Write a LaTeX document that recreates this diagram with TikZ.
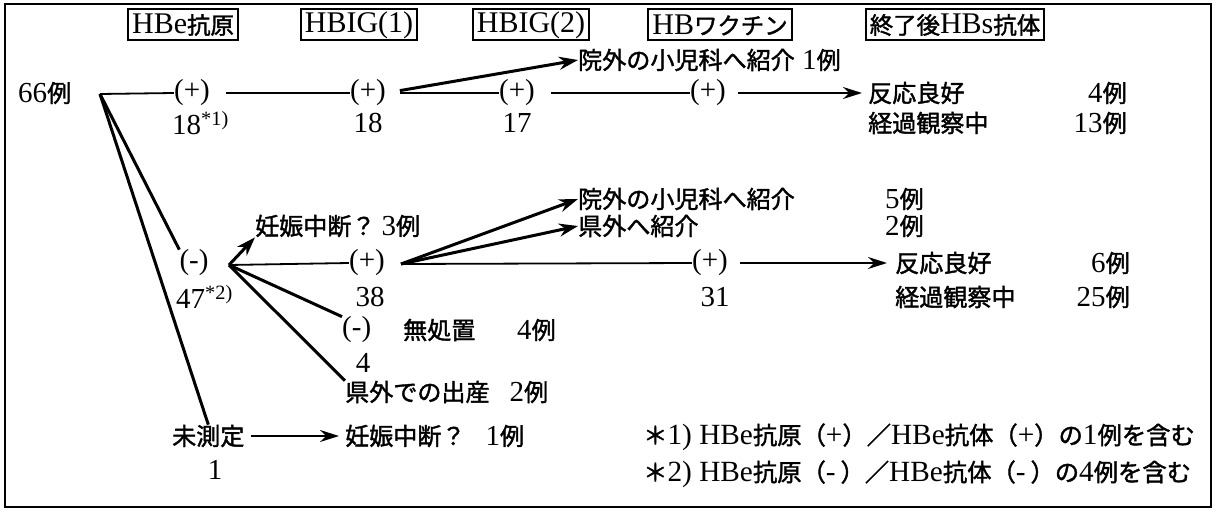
\documentclass[tikz,border=0pt]{standalone}
\usepackage{fontspec}
\setmainfont{Liberation Serif}
\newfontfamily\jpf[Scale=0.83,FakeBold=1.6]{Noto Sans CJK JP}
\newfontfamily\jph[Scale=0.78,FakeBold=1.6]{Noto Sans CJK JP}
\newcommand\J[1]{{\jpf #1}}
\newcommand\JH[1]{{\jph #1}}
\usetikzlibrary{arrows.meta}
\begin{document}
\begin{tikzpicture}[x=1pt,y=-1pt,
  every node/.style={font=\fontsize{29}{31}\selectfont, inner sep=0pt},
  lbl/.style={anchor=west},
  lble/.style={anchor=east},
  hdr/.style={draw, line width=2pt, font=\fontsize{30}{32}\selectfont, inner xsep=4pt, inner ysep=1pt, minimum height=31pt},
  conn/.style={line width=3pt},
  hl/.style={line width=1.8pt},
  arr/.style={line width=3pt, -{Stealth[length=19pt,width=13pt]}},
  harr/.style={line width=2pt, -{Stealth[length=19pt,width=12pt]}},
  note/.style={anchor=west, font=\fontsize{29.3}{31}\selectfont},
]
\useasboundingbox (0,0) rectangle (1217,511);
\draw[line width=2.2pt] (5,4) rectangle (1211,507);
% headers
\node[hdr] (h1) at (183,25) {HBe\JH{抗原}};
\node[hdr] (h2) at (359,25) {HBIG(1)};
\node[hdr] (h3) at (531,25) {HBIG(2)};
\node[hdr] (h4) at (720,25) {HB\JH{ワクチン}};
\node[hdr] (h5) at (955,25) {\JH{終了後}HBs\JH{抗体}};
% upper branch
\node[lbl] (n66) at (18,93) {66\J{例}};
\coordinate (o) at (100,94);
\node (p1) at (192,93) {(+)};
\node[lbl] (c18a) at (172,123) {18\textsuperscript{*1)}};
\node (p2) at (368,93) {(+)};
\node (c18b) at (368,123) {18};
\node (p3) at (517,93) {(+)};
\node (c17) at (517,123) {17};
\node (p4) at (708,93) {(+)};
\node[lbl] (t1) at (578,60) {\J{院外の小児科へ紹介}};
\node[lbl] (t1n) at (802,60) {1\J{例}};
\node[lbl] (r1) at (868,93) {\J{反応良好}};
\node[lble] (r1n) at (1127,93) {4\J{例}};
\node[lbl] (r2) at (868,123) {\J{経過観察中}};
\node[lble] (r2n) at (1127,123) {13\J{例}};
\draw[hl] (o) -- (p1.west);
\draw[hl, shorten <=16pt] (p1.east) -- (p2.west);
\draw[arr, shorten <=14pt] (p2.east) -- (t1.west);
\draw[hl, shorten <=14pt] (p2.east) -- (p3.west);
\draw[hl, shorten <=16pt] (p3.east) -- (p4.west);
\draw[harr, shorten <=12pt, shorten >=6pt] (p4.east) -- (r1.west);
% lower branch
\node (m1) at (194,263) {(-)};
\node[lbl] (c47) at (176,297) {47\textsuperscript{*2)}};
\coordinate (hub) at (229,265);
\node[lbl] (t2) at (255,226) {\J{妊娠中断？}\hspace{6pt}3\J{例}};
\node (q1) at (367,263) {(+)};
\node (c38) at (370,297) {38};
\coordinate (hub2) at (401,264);
\node[lbl] (t3) at (578,199) {\J{院外の小児科へ紹介}};
\node[lbl] (t3n) at (885,199) {5\J{例}};
\node[lbl] (t4) at (578,226) {\J{県外へ紹介}};
\node[lbl] (t4n) at (885,226) {2\J{例}};
\node (q2) at (710,263) {(+)};
\node (c31) at (715,297) {31};
\node[lbl] (r3) at (895,263) {\J{反応良好}};
\node[lble] (r3n) at (1130,263) {6\J{例}};
\node[lbl] (r4) at (895,297) {\J{経過観察中}};
\node[lble] (r4n) at (1130,297) {25\J{例}};
\node[lbl] (q3) at (342,330) {(-)};
\node[lbl] (q3t) at (403,330) {\J{無処置}};
\node[lbl] (q3n) at (517,330) {4\J{例}};
\node (c4) at (363,363) {4};
\node[lbl] (t5) at (345,392) {\J{県外での出産}\hspace{20pt}2\J{例}};
\node[lbl] (u) at (172,436) {\J{未測定}};
\node (c1) at (215,470) {1};
\node[lbl] (t6) at (345,436) {\J{妊娠中断？}\hspace{20pt}1\J{例}};
\draw[conn] (o) -- (m1.north west);
\draw[conn] (o) -- (u.north);
\draw[arr] (hub) -- (t2.south west);
\draw[hl] (hub) -- (q1.west);
\draw[conn] (hub) -- (q3.north west);
\draw[conn] (hub) -- (t5.north west);
\draw[arr] (hub2) -- (t3.west);
\draw[arr] (hub2) -- (t4.west);
\draw[hl] (hub2) -- (q2.west);
\draw[harr, shorten <=12pt, shorten >=8pt] (q2.east) -- (r3.west);
\draw[harr, shorten <=6pt, shorten >=6pt] (u.east) -- (t6.west);
% notes
\node[note] (f1) at (643,437) {\J{＊}1)\ HBe\J{抗原（}+\J{）／}HBe\J{抗体（}+\J{）の}1\J{例を含む}};
\node[note] (f2) at (643,474) {\J{＊}2)\ HBe\J{抗原（}-\,\J{）／}HBe\J{抗体（}-\,\J{）の}4\J{例を含む}};
\end{tikzpicture}
\end{document}
